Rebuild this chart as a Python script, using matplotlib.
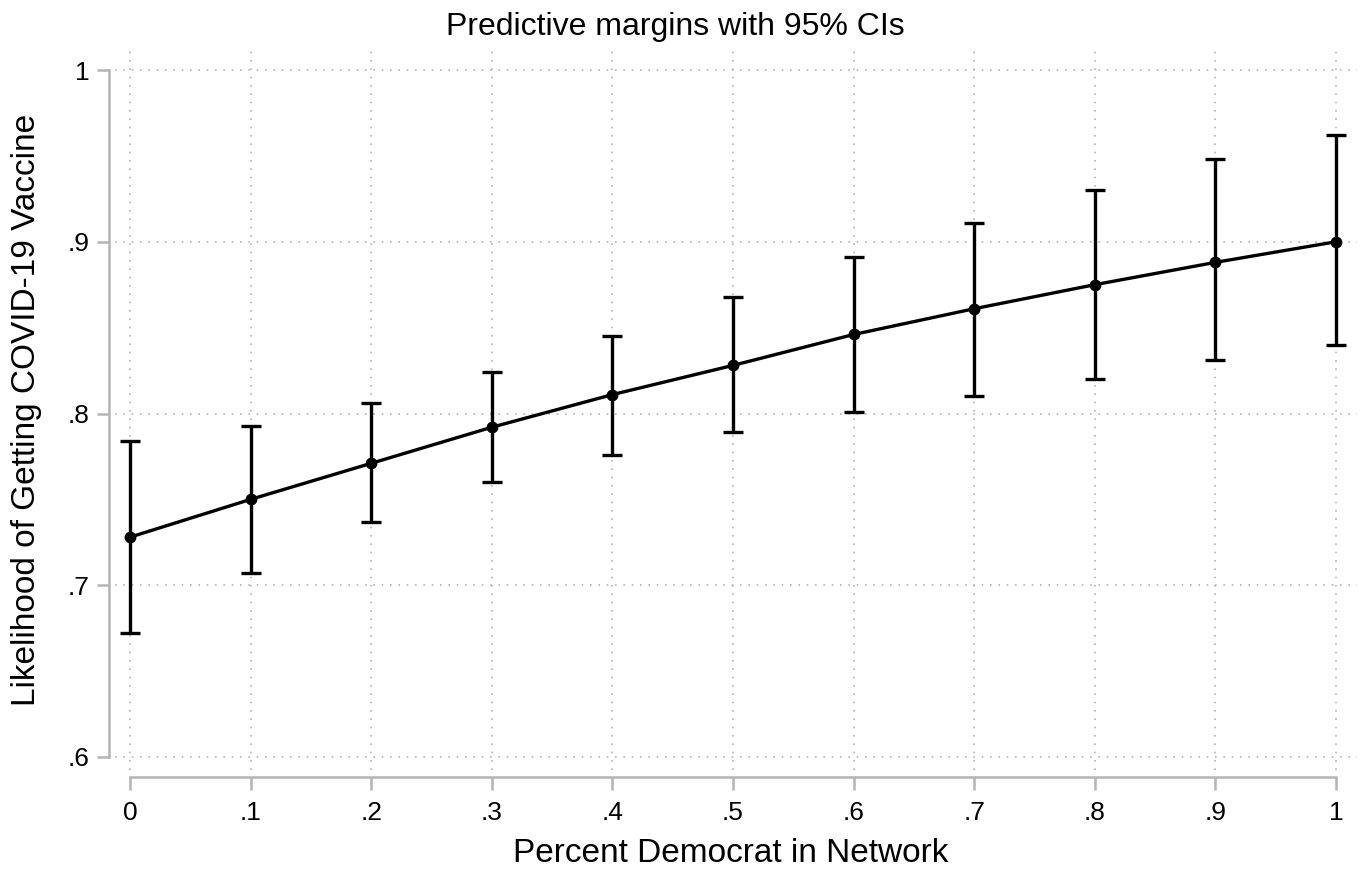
import numpy as np
import matplotlib
matplotlib.use("Agg")
from matplotlib import pyplot as plt

plt.rcParams['font.family'] = ['Liberation Sans', 'DejaVu Sans']

x = np.array([0.0, 0.1, 0.2, 0.3, 0.4, 0.5, 0.6, 0.7, 0.8, 0.9, 1.0])  # percent democrat
margin = np.array([0.728, 0.750, 0.771, 0.792, 0.811, 0.828, 0.846, 0.861, 0.875, 0.888, 0.900])
ci_hi = np.array([0.784, 0.793, 0.806, 0.824, 0.845, 0.868, 0.891, 0.911, 0.930, 0.948, 0.962])
ci_lo = np.array([0.672, 0.707, 0.737, 0.760, 0.776, 0.789, 0.801, 0.810, 0.820, 0.831, 0.840])

xticks = [0, .1, .2, .3, .4, .5, .6, .7, .8, .9, 1]
xlabels = ['0', '.1', '.2', '.3', '.4', '.5', '.6', '.7', '.8', '.9', '1']
yticks = [.6, .7, .8, .9, 1]
ylabels = ['.6', '.7', '.8', '.9', '1']

W, H = 1366, 873
fig = plt.figure(figsize=(W / 100, H / 100), dpi=100)
# plot region in pixels: x 115..1357, y 50..770
ax = fig.add_axes([115 / W, (H - 770) / H, (1357 - 115) / W, (770 - 50) / H])

px_x = 1206.0  # pixels per unit x
px_y = 687.0 / 0.4
ax.set_xlim(-15 / px_x, 1 + 21 / px_x)
ax.set_ylim(0.6 - 13 / px_y, 1 + 20 / px_y)

grid_kw = dict(color='#b4b4b4', linewidth=1.2, linestyle=(0, (1, 4)), zorder=0)
for t in xticks:
    ax.axvline(t, **grid_kw)
for t in yticks:
    ax.axhline(t, **grid_kw)

ax.errorbar(x, margin, yerr=[margin - ci_lo, ci_hi - margin], color='black',
            linewidth=2.4, elinewidth=2.4, capsize=7, capthick=2.4,
            marker='o', markersize=7.5, markerfacecolor='black', zorder=3)

for s in ['top', 'right']:
    ax.spines[s].set_visible(False)
ax.spines['left'].set_position(('outward', 6 * 0.72))
ax.spines['bottom'].set_position(('outward', 7 * 0.72))
ax.spines['left'].set_bounds(0.6, 1)
ax.spines['bottom'].set_bounds(0, 1)
for s in ['left', 'bottom']:
    ax.spines[s].set_color('#b4b4b4')
    ax.spines[s].set_linewidth(1.8)

ax.set_xticks(xticks)
ax.set_xticklabels(xlabels)
ax.set_yticks(yticks)
ax.set_yticklabels(ylabels)
ax.tick_params(axis='both', colors='#b4b4b4', labelcolor='black', length=9,
               width=1.8, labelsize=19)
ax.tick_params(axis='x', pad=8)
ax.tick_params(axis='y', pad=5)

ax.set_xlabel('Percent Democrat in Network', fontsize=24, va='center')
ax.xaxis.set_label_coords(731 / W, 1 - 853 / H, transform=fig.transFigure)
ax.set_ylabel('Likelihood of Getting COVID-19 Vaccine', fontsize=24, va='center')
ax.yaxis.set_label_coords(27 / W, 1 - 410 / H, transform=fig.transFigure)
fig.text(675 / W, 1 - 27 / H, 'Predictive margins with 95% CIs', fontsize=23,
         ha='center', va='center')

fig.savefig('out.png', dpi=100)
